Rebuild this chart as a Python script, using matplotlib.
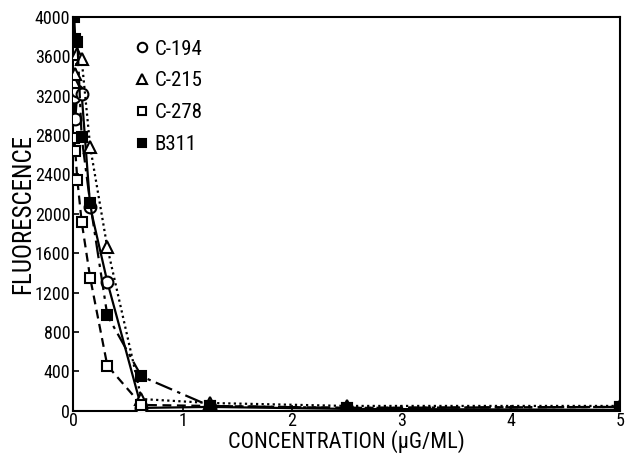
import matplotlib
matplotlib.use("Agg")
import matplotlib.pyplot as plt

plt.rcParams['font.family'] = ['Liberation Sans Narrow', 'Roboto Condensed', 'DejaVu Sans']
plt.rcParams['font.stretch'] = 'condensed'

# two-fold dilution series (ug/ml)
conc = [0.0098, 0.0195, 0.039, 0.078, 0.156, 0.3125, 0.625, 1.25, 2.5, 5.0]

c194 = [3190, 2960, 3250, 3220, 2070, 1310, 30, 40, 20, 10]
c215 = [3340, 3420, 3620, 3570, 2680, 1660, 120, 80, 50, 50]
c278 = [2770, 2640, 2340, 1920, 1350, 460, 60, 50, 30, 40]
b311 = [4000, 3770, 3740, 2780, 2110, 970, 350, 50, 30, 40]

x_ticks = [0, 1, 2, 3, 4, 5]
y_ticks = list(range(0, 4001, 400))

fig = plt.figure(figsize=(6.25, 4.55), dpi=100)
ax = fig.add_axes([0.117, 0.097, 0.875, 0.866])

ax.plot(conc, c194, color='black', lw=1.6, ls='-', marker='o', ms=8.5,
        mfc='white', mec='black', mew=1.5, label='C-194', zorder=3)
ax.plot(conc, c215, color='black', lw=1.6, ls=(0, (1, 1.5)), marker='^', ms=8.5,
        mfc='white', mec='black', mew=1.5, label='C-215', zorder=3)
ax.plot(conc, c278, color='black', lw=1.6, ls=(0, (4, 2.5)), marker='s', ms=7.5,
        mfc='white', mec='black', mew=1.5, label='C-278', zorder=3)
ax.plot(conc, b311, color='black', lw=1.6, ls=(0, (8, 2.5, 1.5, 2.5)), marker='s', ms=7.5,
        mfc='black', mec='black', mew=1.5, label='B311', zorder=3)

ax.set_xlim(0, 5)
ax.set_ylim(0, 4000)
ax.set_xticks(x_ticks)
ax.set_yticks(y_ticks)
ax.tick_params(axis='both', direction='in', length=4, width=1.2, labelsize=13)
ax.tick_params(axis='y', pad=2)
ax.tick_params(axis='x', pad=1)
for s in ax.spines.values():
    s.set_linewidth(1.5)

ax.set_xlabel('CONCENTRATION (µG/ML)', fontsize=16, labelpad=0)
ax.set_ylabel('FLUORESCENCE', fontsize=18, labelpad=0)

leg = ax.legend(loc='upper left', bbox_to_anchor=(0.08, 0.99), frameon=False,
                handlelength=0.6, handletextpad=0.3, labelspacing=0.62,
                fontsize=15, markerscale=0.8)
for h in leg.legend_handles:
    h.set_linestyle('None')

fig.savefig('out.png', dpi=100)
